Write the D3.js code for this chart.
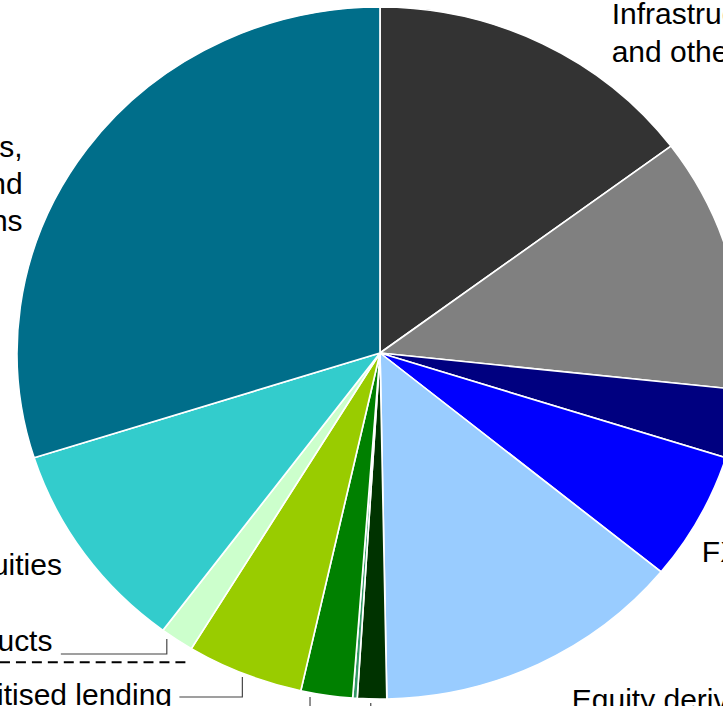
<!DOCTYPE html>
<html>
<head>
<meta charset="utf-8">
<script src="https://cdn.jsdelivr.net/npm/d3@7"></script>
<style>
  html, body { margin: 0; padding: 0; background: #fff; overflow: hidden; }
  svg { display: block; }
  text { font-family: "Liberation Sans", Arial, sans-serif; fill: #000; }
</style>
</head>
<body>
<svg id="chart" width="723" height="706"></svg>
<script>
// Slice categories, clockwise from 12 o'clock
const categories = [
  "Infrastructure and other",
  "Interest rate derivatives",
  "Credit derivatives",
  "FX derivatives",
  "Equity derivatives",
  "Commodity derivatives",
  "Other derivatives",
  "Repos",
  "Securitised lending",
  "Structured products",
  "Equities",
  "Bonds, loans and positions"
];
// Share of total, per cent
const shares = [14.8, 11.9, 3.2, 6.0, 13.8, 1.3, 0.2, 2.3, 5.2, 1.5, 9.9, 29.9];
const colours = [
  "#333333", "#808080", "#000080", "#0000ff", "#99ccff", "#003300",
  "#339966", "#008000", "#99cc00", "#ccffcc", "#33cccc", "#006e8a"
];

// Visible label text (lines) for the labelled slices
const labelLines = [
  ["Infrastructure", "and other"],
  ["Debt securities,", "loans and", "other positions"],
  ["Equities"],
  ["Structured products"],
  ["Securitised lending"],
  ["FX derivatives"],
  ["Equity derivatives"]
];

const W = 723, H = 706;
const sx = 363 / 346;          // horizontal stretch of the whole figure
const cx = 380 / sx, cy = 353, R = 346;

const svg = d3.select("#chart");
const g = svg.append("g").attr("transform", `scale(${sx},1)`);

const pie = d3.pie().sort(null).value(d => d)(shares);
const arc = d3.arc().innerRadius(0).outerRadius(R);

g.append("g")
  .attr("transform", `translate(${cx},${cy})`)
  .selectAll("path")
  .data(pie)
  .join("path")
  .attr("d", arc)
  .attr("fill", (d, i) => colours[i])
  .attr("stroke", "#fff")
  .attr("stroke-width", 1.6)
  .attr("stroke-linejoin", "round");

// Label placement (layout only)
const labelLayout = [
  { x: 583, y: 24, anchor: "start", dy: 38 },
  { x: 21.5, y: 157, anchor: "end", dy: 37 },
  { x: 59, y: 575, anchor: "end", dy: 0 },
  { x: 50, y: 651, anchor: "end", dy: 0 },
  { x: 164, y: 705, anchor: "end", dy: 0 },
  { x: 669, y: 562, anchor: "start", dy: 0 },
  { x: 545, y: 710, anchor: "start", dy: 0 }
];

const labels = g.append("g").attr("font-size", 28.6);
labelLines.forEach((lines, i) => {
  const L = labelLayout[i];
  const t = labels.append("text")
    .attr("text-anchor", L.anchor)
    .attr("x", L.x).attr("y", L.y);
  lines.forEach((s, k) => {
    t.append("tspan").attr("x", L.x).attr("y", L.y + k * L.dy).text(s);
  });
});

// Leader lines
const leaders = [
  [[58, 654], [159, 654], [159, 639]],
  [[171, 697], [231, 697], [231, 677]],
  [[295.5, 697], [295.5, 710]],
  [[353.4, 703], [353.4, 710]]
];
g.append("g")
  .selectAll("path")
  .data(leaders)
  .join("path")
  .attr("d", d3.line())
  .attr("fill", "none")
  .attr("stroke", "#404040")
  .attr("stroke-width", 1.1);

// Dashed separator
g.append("line")
  .attr("x1", 0).attr("x2", 181)
  .attr("y1", 662.3).attr("y2", 662.3)
  .attr("stroke", "#000")
  .attr("stroke-width", 2)
  .attr("stroke-dasharray", "9.5,5.7");
</script>
</body>
</html>
